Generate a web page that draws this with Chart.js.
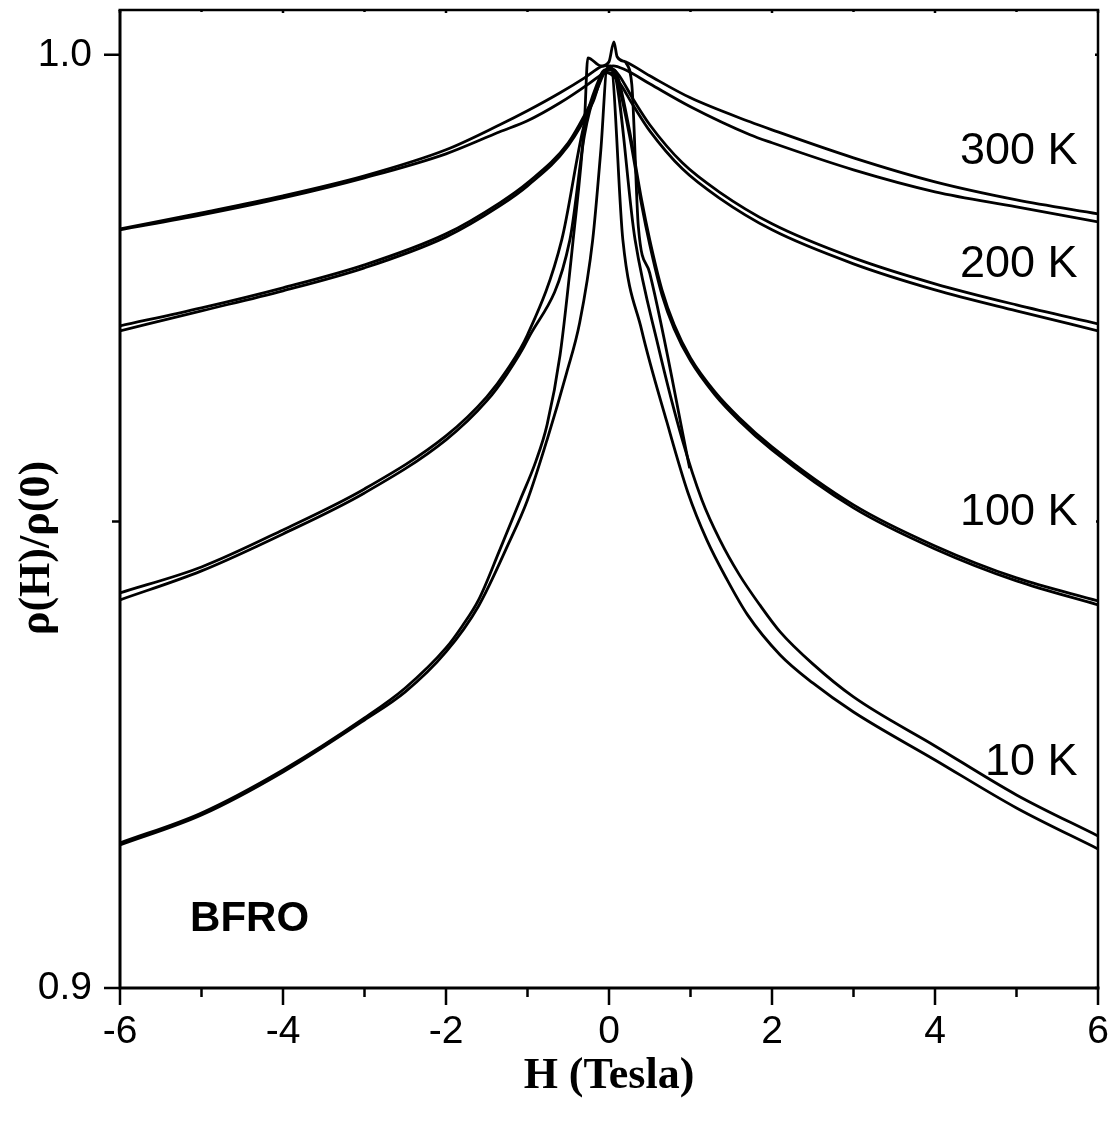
<!DOCTYPE html>
<html><head><meta charset="utf-8">
<script src="https://cdn.jsdelivr.net/npm/chart.js@4"></script>
<style>html,body{margin:0;padding:0;background:#fff;} canvas{display:block;}</style>
</head><body>
<canvas id="c" width="1115" height="1126"></canvas>
<script>
// ---- data (H in Tesla, rho(H)/rho(0)) ----
const H300a = [-6,-5,-4,-3,-2,-1.34,-1,-0.6,-0.3,-0.1,0,0.06,0.1,0.2,0.5,1,1.73,2,3,4,5,6];
const R300a = [0.98135,0.98307,0.98489,0.98703,0.98982,0.99250,0.99400,0.99593,0.99753,0.99871,0.99925,1.00139,0.99979,0.99925,0.99775,0.99539,0.99282,0.99196,0.98896,0.98639,0.98446,0.98296];
const H300b = [-6,-5,-4,-3,-2,-1.34,-1,-0.6,-0.25,-0.1,0.05,0.2,0.5,1,1.73,2,3,4,5,6];
const R300b = [0.98124,0.98285,0.98467,0.98682,0.98939,0.99175,0.99293,0.99486,0.99689,0.99786,0.99882,0.99839,0.99689,0.99443,0.99143,0.99057,0.98767,0.98532,0.98371,0.98210];
const H200a = [-6,-5,-4,-3,-2,-1.34,-1,-0.5,-0.2,0,0.1,0.3,0.5,0.9,1.35,2,3,4,5,6];
const R200a = [0.97095,0.97288,0.97503,0.97749,0.98081,0.98414,0.98628,0.99057,0.99518,0.99861,0.99807,0.99518,0.99250,0.98842,0.98532,0.98189,0.97824,0.97546,0.97320,0.97117];
const H200b = [-6,-5,-4,-3,-2,-1.34,-1,-0.5,-0.2,-0.05,0.1,0.3,0.5,0.9,1.35,2,3,4,5,6];
const R200b = [0.97042,0.97256,0.97471,0.97717,0.98049,0.98382,0.98596,0.99025,0.99486,0.99818,0.99732,0.99453,0.99185,0.98778,0.98467,0.98124,0.97760,0.97481,0.97256,0.97042];
const H100a = [-6,-5,-4,-3,-2,-1.5,-1.25,-1,-0.58,-0.32,-0.15,-0.05,0.05,0.1,0.25,0.4,0.5,0.65,0.8,1,1.3,1.6,2,3,4,5,6];
const R100a = [0.94234,0.94512,0.94909,0.95348,0.95916,0.96334,0.96624,0.96999,0.98017,0.99196,0.99678,0.99839,0.99839,0.99786,0.99196,0.98446,0.98017,0.97481,0.97106,0.96752,0.96388,0.96109,0.95799,0.95177,0.94737,0.94394,0.94148];
const H100b = [-6,-5,-4,-3,-2,-1.5,-1.25,-1,-0.48,-0.3,-0.15,-0.05,0.05,0.1,0.25,0.4,0.5,0.65,0.8,1,1.3,1.6,2,3,4,5,6];
const R100b = [0.94159,0.94470,0.94866,0.95305,0.95874,0.96291,0.96581,0.96945,0.98017,0.99143,0.99646,0.99807,0.99807,0.99732,0.99143,0.98392,0.97964,0.97428,0.97063,0.96720,0.96356,0.96077,0.95766,0.95145,0.94705,0.94362,0.94105];
const H100p = [0.2,0.28,0.36,0.5,0.99];
const R100p = [0.9993,0.9968,0.9816,0.9766,0.9557];
const H10a = [-6,-5,-4,-3,-2.5,-2,-1.8,-1.6,-1.34,-1.09,-0.9,-0.76,-0.6,-0.44,-0.3,-0.26,-0.1,0.02,0.17,0.4,0.71,0.97,1.2,1.45,1.7,2.1,2.5,3,4,5,6];
const R10a = [0.91554,0.91876,0.92337,0.92894,0.93215,0.93644,0.93880,0.94159,0.94695,0.95230,0.95638,0.96034,0.96785,0.98017,0.99303,0.99968,0.99882,0.99882,0.98017,0.97053,0.96066,0.95305,0.94802,0.94373,0.93998,0.93569,0.93269,0.92958,0.92444,0.91929,0.91490];
const H10b = [-6,-5,-4,-3,-2.5,-2,-1.6,-1.24,-1,-0.76,-0.52,-0.36,-0.2,-0.1,-0.02,0.05,0.32,0.6,0.9,1.14,1.36,1.6,1.85,2.1,2.5,3,4,5,6];
const R10b = [0.91533,0.91854,0.92315,0.92872,0.93173,0.93601,0.94094,0.94748,0.95230,0.95874,0.96592,0.97128,0.98017,0.98982,0.99861,0.99839,0.98017,0.96892,0.95874,0.95230,0.94802,0.94427,0.94105,0.93816,0.93473,0.93119,0.92594,0.92069,0.91629];

const xMajor = [-6,-4,-2,0,2,4,6];
const xMinor = [-5,-3,-1,1,3,5];
const yMajor = [0.9,1.0];
const yMinor = [0.95];
const curveLabels = ['300 K','200 K','100 K','10 K'];
const curveLabelY = [0.9896,0.9775,0.9509,0.9242];
const sampleLabel = 'BFRO';
const xTitle = 'H (Tesla)';
const yTitle = 'ρ(H)/ρ(0)';

const series = [[H300a,R300a],[H300b,R300b],[H200a,R200a],[H200b,R200b],[H100a,R100a],[H100b,R100b],[H100p,R100p],[H10a,R10a],[H10b,R10b]];

const SANS = '"Liberation Sans", Arial, Helvetica, sans-serif';
const SERIF = '"Liberation Serif", "Times New Roman", serif';

const framePlugin = {
  id: 'frame',
  afterDraw(chart) {
    const {ctx, chartArea: a, scales: {x, y}} = chart;
    ctx.save();
    ctx.strokeStyle = '#000';
    ctx.lineCap = 'butt';
    ctx.lineWidth = 3;
    ctx.beginPath();
    ctx.moveTo(a.left, a.top); ctx.lineTo(a.left, a.bottom + 1.5);
    ctx.moveTo(a.left - 1.5, a.bottom); ctx.lineTo(a.right + 1.5, a.bottom);
    ctx.stroke();
    ctx.lineWidth = 2.5;
    ctx.beginPath();
    ctx.moveTo(a.left - 1.5, a.top); ctx.lineTo(a.right, a.top); ctx.lineTo(a.right, a.bottom);
    ctx.stroke();
    ctx.lineWidth = 2.5;
    ctx.beginPath();
    xMajor.forEach(v => { const p = x.getPixelForValue(v); ctx.moveTo(p, a.bottom); ctx.lineTo(p, a.bottom + 17); ctx.moveTo(p, a.top); ctx.lineTo(p, a.top + 3); });
    xMinor.forEach(v => { const p = x.getPixelForValue(v); ctx.moveTo(p, a.bottom); ctx.lineTo(p, a.bottom + 9); ctx.moveTo(p, a.top); ctx.lineTo(p, a.top + 2); });
    yMajor.forEach(v => { const p = y.getPixelForValue(v); ctx.moveTo(a.left, p); ctx.lineTo(a.left - 16, p); ctx.moveTo(a.right, p); ctx.lineTo(a.right - 3, p); });
    yMinor.forEach(v => { const p = y.getPixelForValue(v); ctx.moveTo(a.left, p); ctx.lineTo(a.left - 8, p); ctx.moveTo(a.right, p); ctx.lineTo(a.right - 2, p); });
    ctx.stroke();
    ctx.fillStyle = '#000';
    ctx.font = '45px ' + SANS;
    ctx.textAlign = 'right';
    ctx.textBaseline = 'middle';
    curveLabels.forEach((t, i) => ctx.fillText(t, x.getPixelForValue(5.75), y.getPixelForValue(curveLabelY[i])));
    ctx.font = 'bold 42px ' + SANS;
    ctx.textAlign = 'left';
    ctx.fillText(sampleLabel, x.getPixelForValue(-5.14), y.getPixelForValue(0.9073));
    ctx.font = 'bold 44px ' + SERIF;
    ctx.textAlign = 'center';
    ctx.fillText(xTitle, (a.left + a.right) / 2, 1077);
    ctx.translate(38, 548);
    ctx.rotate(-Math.PI / 2);
    ctx.fillText(yTitle, 0, 0);
    ctx.restore();
  }
};

new Chart(document.getElementById('c'), {
  type: 'scatter',
  data: {
    datasets: series.map(([h, r]) => ({
      data: h.map((v, i) => ({x: v, y: r[i]})),
      showLine: true, borderColor: '#000', borderWidth: 2.8,
      pointRadius: 0, fill: false, cubicInterpolationMode: 'monotone'
    }))
  },
  options: {
    responsive: false, animation: false, devicePixelRatio: 1,
    layout: {padding: {top: 10, right: 17, left: 0, bottom: 0}},
    plugins: {legend: {display: false}, tooltip: {enabled: false}},
    scales: {
      x: {
        type: 'linear', min: -6, max: 6,
        afterBuildTicks: s => { s.ticks = xMajor.map(v => ({value: v})); },
        afterFit: s => { s.height = 138; s.paddingLeft = 0; s.paddingRight = 0; },
        grid: {display: true, drawOnChartArea: false, drawTicks: true, tickLength: 17, color: 'rgba(0,0,0,0)'},
        border: {display: false},
        ticks: {font: {family: SANS, size: 39}, color: '#000', padding: 4, maxRotation: 0, autoSkip: false, callback: v => String(v)}
      },
      y: {
        type: 'linear', min: 0.9, max: 1.0048,
        afterBuildTicks: s => { s.ticks = yMajor.map(v => ({value: v})); },
        afterFit: s => { s.width = 120; s.paddingTop = 0; s.paddingBottom = 0; },
        grid: {display: true, drawOnChartArea: false, drawTicks: true, tickLength: 16, color: 'rgba(0,0,0,0)'},
        border: {display: false},
        ticks: {font: {family: SANS, size: 39}, color: '#000', padding: 12, autoSkip: false, callback: v => v.toFixed(1)}
      }
    }
  },
  plugins: [framePlugin]
});
</script>
</body></html>
